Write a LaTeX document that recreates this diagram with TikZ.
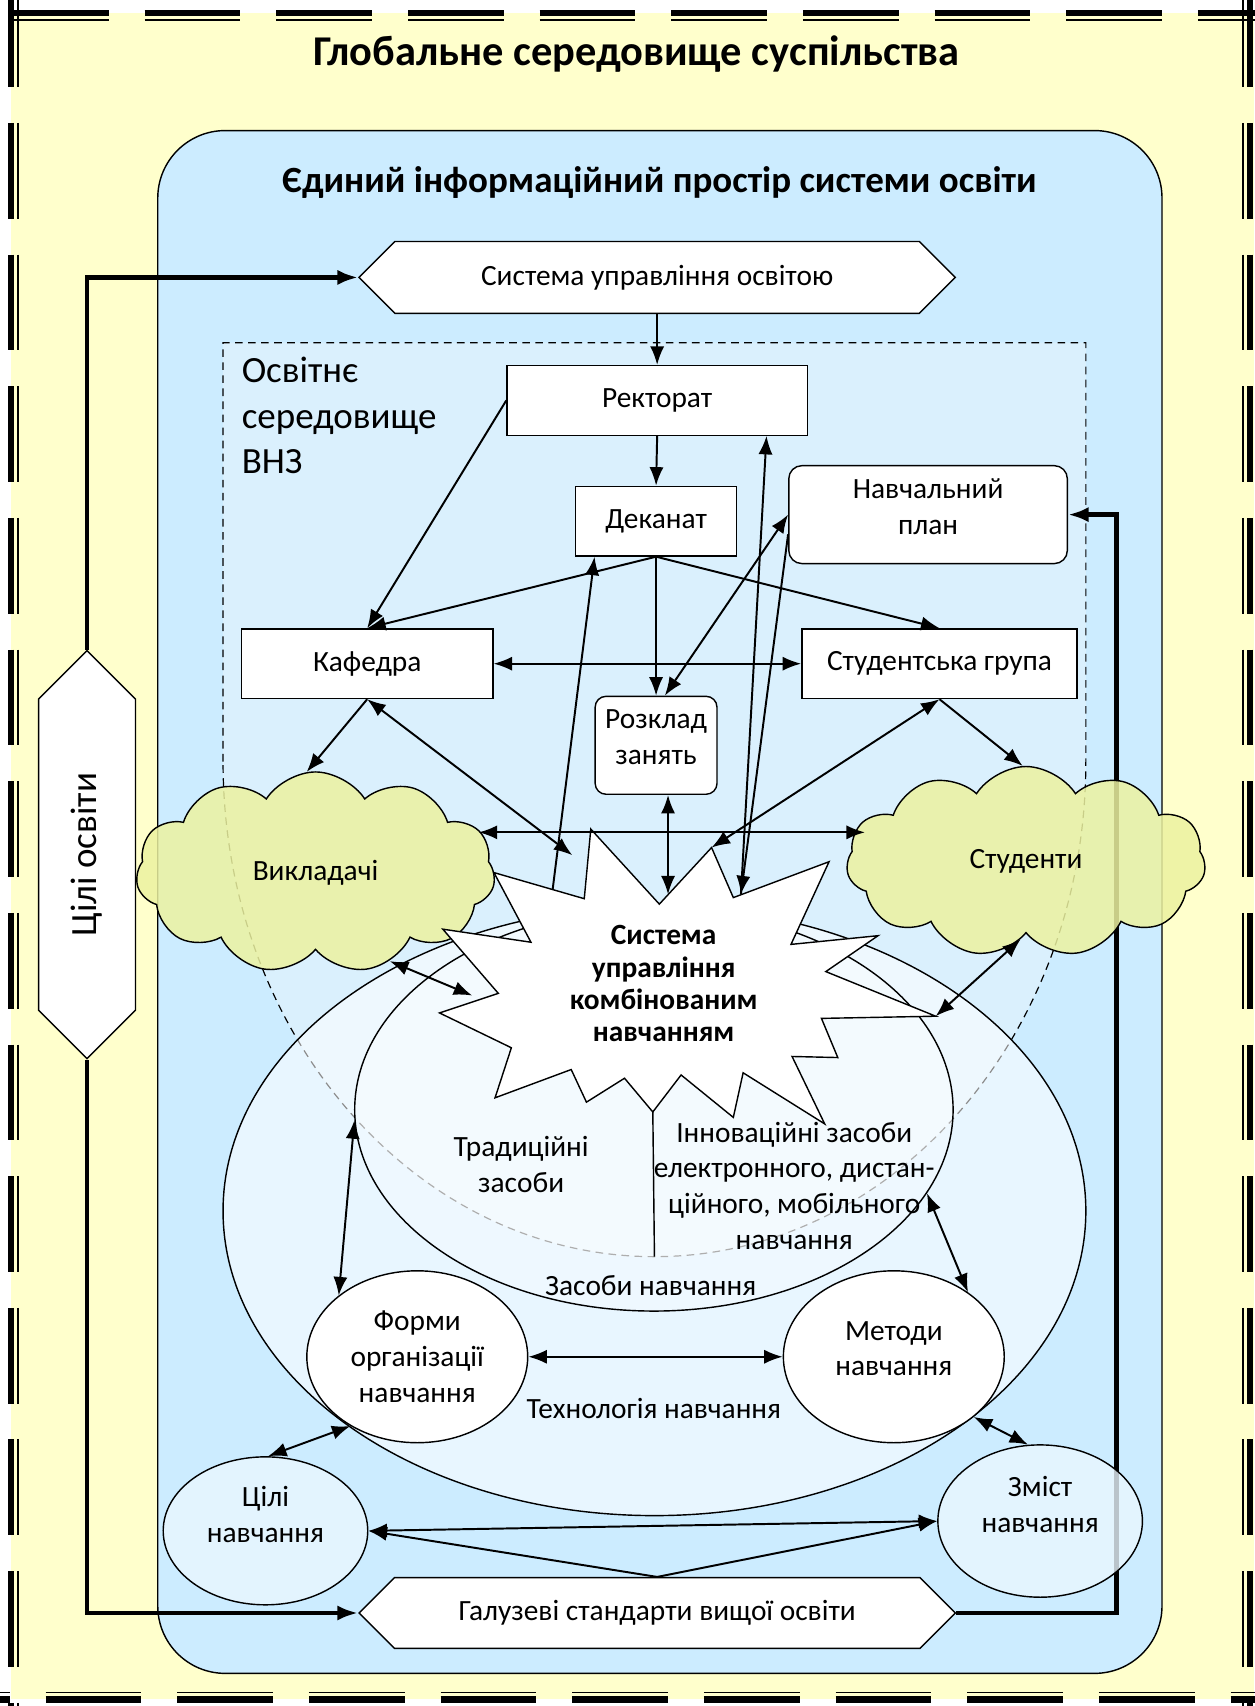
\documentclass[tikz,border=0pt]{standalone}
\usepackage{fontspec}
\setmainfont{Carlito}
\usetikzlibrary{shapes.symbols,shapes.geometric,arrows.meta}

\definecolor{zhovtyj}{RGB}{255,255,204}
\definecolor{blakytnyj}{RGB}{204,236,255}
\definecolor{seredovyshche}{RGB}{218,240,253}
\definecolor{hmara}{RGB}{236,242,160}

\newcommand{\tekst}{\fontsize{27}{33}\selectfont}
\newcommand{\velykyj}{\fontsize{34}{40}\selectfont\bfseries}

\tikzset{
  ramka/.style={draw, fill=white, line width=1.3pt, font=\tekst, align=center, inner sep=0pt},
  shestykutnyk/.style={ramka, signal, signal to=west and east, signal pointer angle=90},
  ovalnyj/.style={ramka, ellipse},
  hmarka/.style={ramka, cloud, cloud puffs=11, cloud puff arc=115, fill=hmara, fill opacity=0.85, text opacity=1},
  strilka/.style={line width=1.8pt, -{Latex[length=17pt,width=13pt]}},
  dvi/.style={line width=1.8pt, {Latex[length=17pt,width=13pt]}-{Latex[length=17pt,width=13pt]}},
  tovsta/.style={line width=4.5pt, -{Latex[length=19pt,width=14pt]}}
}

\begin{document}
\begin{tikzpicture}[x=1pt, y=-1pt]
\useasboundingbox (0,0) rectangle (1153,1568);

%Фон і рамка
\fill[zhovtyj] (10,12) rectangle (1153,1562);
\foreach \z/\t in {0/6pt, 6.5/1.4pt} {
  \draw[line width=\t, dash pattern=on 88pt off 33pt] (12,12+\z) -- (1160,12+\z);
  \draw[line width=\t, dash pattern=on 88pt off 33pt] (10+\z,-8) -- (10+\z,1568);
  \draw[line width=\t, dash pattern=on 88pt off 33pt] (-79,1562-\z) -- (1160,1562-\z);
  \draw[line width=\t, dash pattern=on 88pt off 33pt] (1149-\z,-8) -- (1149-\z,1568);
}
\node[font=\fontsize{39}{46}\selectfont\bfseries] (hlob) at (585,50) {Глобальне середовище суспільства};

%Єдиний простір
\draw[fill=blakytnyj, line width=1.3pt, rounded corners=62pt] (145,120) rectangle (1068,1538);
\node[font=\velykyj] (prostir) at (606,168) {Єдиний інформаційний простір системи освіти};

%Освітнє середовище ВНЗ
\draw[fill=seredovyshche, line width=1.1pt, dash pattern=on 7pt off 5pt] (205,700) -- (205,315) -- (998,315) -- (998,700)
  arc[start angle=0, end angle=180, x radius=396.5, y radius=455] -- cycle;
\coordinate (dno) at (601.5,1155);
\node[font=\fontsize{34}{42}\selectfont, align=left, anchor=north west, inner sep=0pt] (vnz) at (222,328) {Освітнє\\середовище\\ВНЗ};

%Технологія і засоби навчання
\node[ovalnyj, fill opacity=0.55, minimum width=793pt, minimum height=560pt] (tekh) at (601.5,1113) {};
\node[ovalnyj, fill opacity=0.3, minimum width=550pt, minimum height=370pt] (zasoby) at (601,1020) {};
\node[font=\tekst, align=center] (trad) at (479,1070) {Традиційні\\засоби};
\node[font=\tekst, align=center] (innov) at (730,1090) {Інноваційні засоби\\електронного, дистан-\\ційного, мобільного\\навчання};
\node[font=\tekst] (zaslab) at (598,1182) {Засоби навчання};
\node[font=\tekst] (tekhlab) at (601,1295) {Технологія навчання};

%Блоки
\node[shestykutnyk, minimum width=548pt, minimum height=66pt] (sup) at (604,255) {Система управління освітою};
\node[shestykutnyk, minimum width=548pt, minimum height=65pt] (gal) at (604,1482.5) {Галузеві стандарти вищої освіти};
\node[shestykutnyk, rotate=90, minimum width=375pt, minimum height=89pt, font=\fontsize{34}{40}\selectfont] (cilo) at (80,785.5) {Цілі освіти};
\node[ramka, minimum width=276pt, minimum height=64pt] (rek) at (604,368) {Ректорат};
\node[ramka, minimum width=148pt, minimum height=64pt] (dek) at (603,479) {Деканат};
\node[ramka, rounded corners=12pt, minimum width=256pt, minimum height=90pt, text depth=15pt] (plan) at (853,473) {Навчальний\\план};
\node[ramka, minimum width=231pt, minimum height=64pt] (kaf) at (337.5,610) {Кафедра};
\node[ramka, minimum width=253pt, minimum height=64pt] (sg) at (863.5,610) {Студентська група};
\node[ramka, rounded corners=10pt, minimum width=112pt, minimum height=90pt, text depth=15pt] (rozk) at (603,685) {Розклад\\занять};
\node[ovalnyj, minimum width=203pt, minimum height=158pt] (formy) at (383.5,1247) {Форми\\організації\\навчання};
\node[ovalnyj, minimum width=203pt, minimum height=158pt, text depth=15pt] (metody) at (821.5,1247) {Методи\\навчання};

%Товсті лінії
\draw[tovsta] (cilo.east) |- (sup.west);
\draw[tovsta] (cilo.west) |- (gal.west);
\draw[tovsta] (gal.east) -- ++(147,0) |- (plan.east);

%Хмари
\node[hmarka, minimum width=330pt, minimum height=185pt] (vykl) at (290,802) {Викладачі};
\node[hmarka, minimum width=330pt, minimum height=175pt] (stud) at (943,792) {Студенти};
\node[ovalnyj, fill=seredovyshche!60!white, fill opacity=0.8, text opacity=1, minimum width=188pt, minimum height=136pt, text depth=30pt] (cili) at (244,1407) {Цілі\\навчання};
\node[ovalnyj, fill=seredovyshche!60!white, fill opacity=0.8, text opacity=1, minimum width=188pt, minimum height=140pt, text depth=30pt] (zmist) at (956,1398) {Зміст\\навчання};

%Зірка
\foreach \x/\y [count=\i] in {543/762, 606/831, 654/779, 674/825, 762/792, 727/868, 807/860, 759/893,
  860/934, 755/936, 770/972, 728/971, 758/1033, 683/986, 674/1027, 626/988, 600/1022, 574/991,
  539/1013, 525/983, 455/1009, 470/963, 404/931, 458/913, 407/854, 488/866, 454/802, 537/826}
  \coordinate (s\i) at (\x,\y);
\draw[fill=white, line width=1.3pt] (s1) \foreach \i in {2,...,28} {-- (s\i)} -- cycle;
\node[font=\fontsize{27}{29.5}\selectfont\bfseries, align=center] (zirka) at (610,904) {Система\\управління\\комбінованим\\навчанням};
\draw[line width=1.3pt] (s17) -- (dno);

\coordinate (zKaf) at (526,786);
\coordinate (zDek) at (508,817);
\coordinate (zRek) at (681,822);
\coordinate (zRozk) at (614,822);
\coordinate (zVykl) at (434,915);
\coordinate (vR) at (440,765);
\coordinate (sL) at (795,765);

%Зв'язки
\draw[strilka] (sup.south) -- (rek.north);
\draw[strilka] (rek.south) -- (dek.north);
\draw[strilka] (rek.west) -- (kaf.north);
\draw[strilka] (dek.south) -- (kaf.north);
\draw[strilka] (dek.south) -- (sg.north);
\draw[strilka] (dek.south) -- (rozk.north);
\draw[dvi] (kaf.east) -- (sg.west);
\draw[dvi] (plan.west) -- (rozk.80);
\draw[strilka] (zRek) -- (rek.-18);
\draw[strilka] (plan.188) -- (zRek);
\draw[strilka] (zDek) -- (dek.-150);
\draw[strilka] (kaf.south) -- (vykl.95);
\draw[dvi] (kaf.south) -- (zKaf);
\draw[dvi] (vR) -- (sL);
\draw[dvi] (rozk.south -| zRozk) -- (zRozk);
\draw[strilka] (sg.south) -- (stud.92);
\draw[dvi] (sg.south) -- (s3);
\draw[dvi] (vykl.-50) -- (zVykl);
\draw[dvi] (stud.-94) -- (s9);
\draw[dvi] (zasoby.182) -- (formy.142);
\draw[dvi] (zasoby.-17) -- (metody.41);
\draw[dvi] (formy.east) -- (metody.west);
\draw[dvi] (formy.-134) -- (cili.88);
\draw[dvi] (metody.-37) -- (zmist.99);
\draw[dvi] (cili.east) -- (zmist.west);
\draw[strilka] (gal.north) -- (cili.east);
\draw[strilka] (gal.north) -- (zmist.west);

\end{tikzpicture}
\end{document}
